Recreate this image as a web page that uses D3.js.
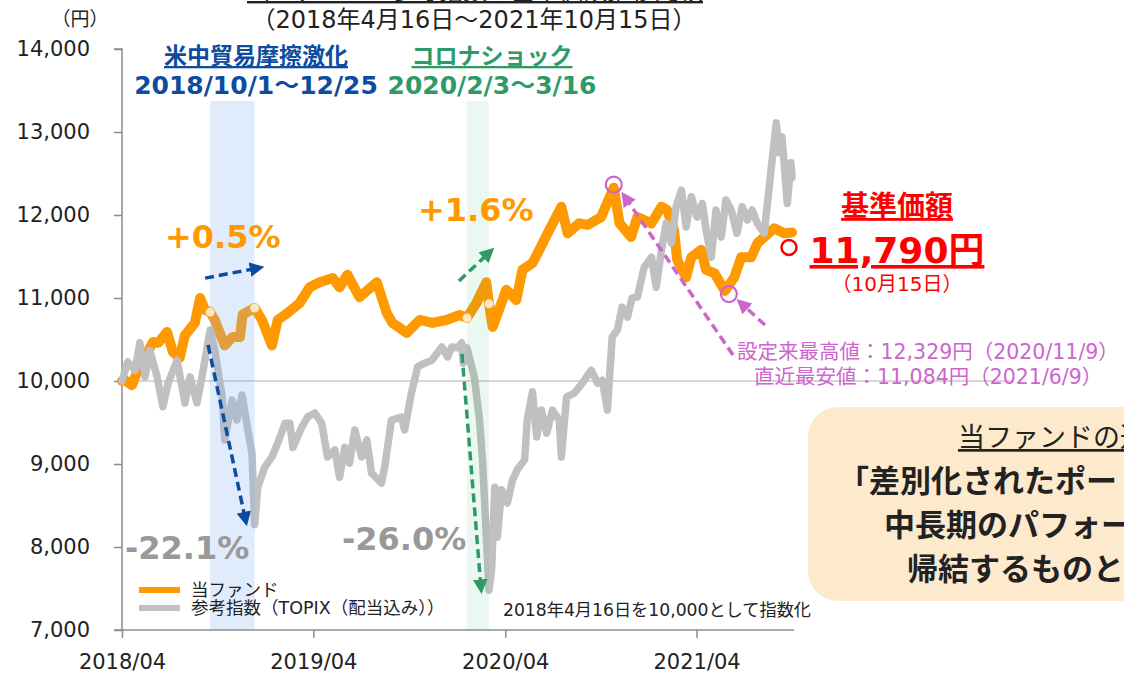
<!DOCTYPE html>
<html>
<head>
<meta charset="utf-8">
<script src="https://cdn.jsdelivr.net/npm/d3@7"></script>
<style>
  body { margin: 0; background: #fff; overflow: hidden; }
  svg { display: block; font-family: "DejaVu Sans", "Noto Sans CJK JP", sans-serif; }
</style>
</head>
<body>
<div id="chart"></div>
<script>
// fund NAV (indexed, 2018/4/16 = 10,000)
const fundDates = [
  "2018-04-16","2018-04-22","2018-05-05","2018-05-16","2018-05-30","2018-06-14","2018-06-24",
  "2018-07-11","2018-07-22","2018-08-04","2018-08-14","2018-09-02","2018-09-12","2018-09-21",
  "2018-10-01","2018-10-10","2018-10-29","2018-11-13","2018-11-27","2018-12-02","2018-12-25",
  "2019-01-08","2019-01-27","2019-02-07","2019-02-26","2019-03-21","2019-04-09","2019-04-28",
  "2019-05-23","2019-06-05","2019-06-20","2019-07-13","2019-08-15","2019-09-03","2019-09-14",
  "2019-10-11","2019-11-05","2019-11-29","2019-12-26","2020-01-20","2020-02-03","2020-02-21",
  "2020-03-11","2020-03-16","2020-03-23","2020-04-18","2020-05-07","2020-05-19","2020-06-07",
  "2020-06-20","2020-07-09","2020-08-01","2020-08-13","2020-09-04","2020-09-20","2020-10-16",
  "2020-11-09","2020-11-20","2020-12-12","2020-12-24","2021-01-20","2021-02-08","2021-02-19",
  "2021-03-04","2021-03-10","2021-03-27","2021-04-06","2021-04-25","2021-05-04","2021-05-20",
  "2021-06-09","2021-06-27","2021-07-10","2021-07-29","2021-08-10","2021-08-23","2021-09-11",
  "2021-09-30","2021-10-15"
];
const fundValues = [
  10000,10010,9950,10130,10290,10470,10460,
  10590,10350,10280,10550,10700,11000,10860,
  10830,10735,10430,10530,10530,10800,10880,
  10735,10430,10735,10820,10940,11130,11190,
  11240,11130,11280,11010,11190,10820,10700,
  10580,10735,10700,10735,10795,10760,10940,
  11190,10930,10650,11100,10975,11340,11420,
  11580,11820,12100,11780,11900,11880,11975,
  12329,11900,11735,11975,11900,12100,12060,
  11820,11460,11250,11490,11580,11340,11300,
  11084,11250,11490,11490,11660,11735,11840,
  11780,11790
];

// TOPIX (dividends included), indexed
const topixDates = [
  "2018-04-16","2018-04-27","2018-05-11","2018-05-20","2018-05-30","2018-06-08","2018-06-22",
  "2018-07-03","2018-07-13","2018-07-30","2018-08-14","2018-08-24","2018-09-06","2018-09-17",
  "2018-10-01","2018-10-10","2018-10-24","2018-10-29","2018-11-12","2018-11-21","2018-12-01",
  "2018-12-12","2018-12-20","2018-12-25","2018-12-31","2019-01-13","2019-01-27","2019-02-07",
  "2019-02-21","2019-03-02","2019-03-08","2019-03-25","2019-04-05","2019-04-19","2019-05-02",
  "2019-05-13","2019-05-27","2019-06-05","2019-06-15","2019-06-24","2019-07-04","2019-07-17",
  "2019-07-27","2019-08-05","2019-08-24","2019-08-30","2019-09-12","2019-10-01","2019-10-07",
  "2019-10-20","2019-11-01","2019-11-14","2019-11-28","2019-12-17","2019-12-28","2020-01-05",
  "2020-01-16","2020-01-24","2020-01-27","2020-02-03","2020-02-17","2020-02-27","2020-03-04",
  "2020-03-11","2020-03-16","2020-03-21","2020-03-27","2020-04-01","2020-04-09","2020-04-20",
  "2020-04-30","2020-05-09","2020-05-23","2020-05-28","2020-06-07","2020-06-15","2020-06-24",
  "2020-07-04","2020-07-15","2020-07-28","2020-08-01","2020-08-11","2020-08-26","2020-09-10",
  "2020-09-27","2020-10-09","2020-10-18","2020-10-28","2020-11-06","2020-11-16","2020-11-25",
  "2020-12-05","2020-12-14","2020-12-24","2021-01-06","2021-01-20","2021-01-29","2021-02-08",
  "2021-02-17","2021-02-27","2021-03-08","2021-03-18","2021-03-27","2021-04-06","2021-04-17",
  "2021-04-27","2021-05-04","2021-05-14","2021-05-23","2021-06-02","2021-06-11","2021-06-21",
  "2021-07-02","2021-07-12","2021-07-22","2021-07-31","2021-08-10","2021-08-23","2021-09-05",
  "2021-09-15","2021-09-20","2021-09-26","2021-10-06","2021-10-13","2021-10-15"
];
const topixValues = [
  10000,10230,10130,10460,10050,10370,10050,
  9690,9975,10250,9735,10050,9735,10100,
  10615,10370,9810,9290,9770,9530,9830,
  9410,9130,8270,8720,8960,9085,9250,
  9490,9490,9200,9445,9565,9615,9490,
  9085,9170,8840,9200,9010,9410,9085,
  9290,8890,8770,8960,9530,9565,9410,
  9855,10170,10215,10250,10410,10290,10410,
  10400,10460,10215,10400,10050,9530,9010,
  8120,7480,7720,8720,8120,8690,8530,
  8810,8930,9050,9530,9870,9325,9650,
  9370,9650,9530,9085,9810,9855,9975,
  10130,9975,10010,9650,10530,10615,10890,
  10770,11000,11010,11370,11490,11130,11580,
  11900,11660,12100,12300,11855,12220,11975,
  12140,11820,11490,12060,11735,12180,12060,
  11780,12100,11940,12060,11900,11780,12540,
  13110,12750,12940,12140,12630,12450
];

const yTicks = [7000, 8000, 9000, 10000, 11000, 12000, 13000, 14000];
const xTickDates = ["2018-04-16", "2019-04-16", "2020-04-16", "2021-04-16"];

// shaded periods
const periodTradeWar = ["2018-10-01", "2018-12-25"];
const periodCorona = ["2020-02-03", "2020-03-16"];
const fundHigh = { date: "2020-11-09", value: 12329 };
const fundLow = { date: "2021-06-09", value: 11084 };

const W = 1124, H = 675;
const parse = d3.timeParse("%Y-%m-%d");
const fund = fundDates.map((d, i) => ({ date: parse(d), value: fundValues[i] }));
const topix = topixDates.map((d, i) => ({ date: parse(d), value: topixValues[i] }));

const BLUE = "#0d4c9f", GREEN = "#2e9a68", ORANGE = "#ff9900", GRAY = "#c0c0c0";
const MAGENTA = "#cc66cc", RED = "#ff0000", CJK = "'Noto Sans CJK JP', sans-serif";

const svg = d3.select("#chart").append("svg").attr("width", W).attr("height", H);

const x = d3.scaleTime()
  .domain([parse("2018-04-16"), parse("2021-10-15")])
  .range([122, 792]);
const y = d3.scaleLinear().domain([7000, 14000]).range([630, 49]);

// arrow markers
const defs = svg.append("defs");
[["blue", BLUE], ["green", GREEN], ["mag", MAGENTA]].forEach(([id, c]) => {
  defs.append("marker")
    .attr("id", "arr-" + id)
    .attr("viewBox", "0 0 10 10")
    .attr("refX", 6).attr("refY", 5)
    .attr("markerWidth", 4.2).attr("markerHeight", 4.2)
    .attr("markerUnits", "strokeWidth")
    .attr("orient", "auto")
    .append("path").attr("d", "M0,0 L10,5 L0,10 z").attr("fill", c);
});

// 10,000 reference line
svg.append("line")
  .attr("x1", x.range()[0]).attr("x2", 1012)
  .attr("y1", y(10000)).attr("y2", y(10000))
  .attr("stroke", "#c8c8c8").attr("stroke-width", 1.5);

// Y axis
const yAxis = svg.append("g")
  .attr("transform", `translate(${x.range()[0]},0)`)
  .call(d3.axisLeft(y).tickValues(yTicks).tickSize(8).tickPadding(24)
    .tickFormat(d3.format(",")));
yAxis.select(".domain").attr("stroke", "#8c8c8c").attr("stroke-width", 1.5)
  .attr("d", `M-8,${y(14000)}H0V${y(7000)}`);
yAxis.selectAll(".tick line").attr("stroke", "#8c8c8c").attr("stroke-width", 1.5);
yAxis.selectAll(".tick text")
  .attr("font-size", 21).attr("fill", "#222")
  .attr("font-family", "DejaVu Sans");

// X axis
const xAxis = svg.append("g")
  .attr("transform", `translate(0,${y(7000)})`)
  .call(d3.axisBottom(x).tickValues(xTickDates.map(parse)).tickSize(8).tickPadding(16)
    .tickFormat(d3.timeFormat("%Y/%m")));
xAxis.select(".domain").attr("stroke", "#8c8c8c").attr("stroke-width", 1.5)
  .attr("d", `M${x.range()[0] - 8},0H${x.range()[1] + 2}`);
xAxis.selectAll(".tick line").attr("stroke", "#8c8c8c").attr("stroke-width", 1.5);
xAxis.selectAll(".tick text")
  .attr("font-size", 21).attr("fill", "#222")
  .attr("font-family", "DejaVu Sans");

// series lines
const line = d3.line().x(d => x(d.date)).y(d => y(d.value));
svg.append("path").datum(fund)
  .attr("d", line).attr("fill", "none")
  .attr("stroke", ORANGE).attr("stroke-width", 10)
  .attr("stroke-linejoin", "round").attr("stroke-linecap", "round");
svg.append("path").datum(topix)
  .attr("d", line).attr("fill", "none")
  .attr("stroke", GRAY).attr("stroke-width", 7.5)
  .attr("stroke-linejoin", "round").attr("stroke-linecap", "round");

// shaded periods (drawn over the lines, translucent)
svg.append("rect")
  .attr("x", x(parse(periodTradeWar[0])))
  .attr("width", x(parse(periodTradeWar[1])) - x(parse(periodTradeWar[0])))
  .attr("y", 101).attr("height", y(7000) - 101)
  .attr("fill", "#85b4f0").attr("opacity", 0.25);
svg.append("rect")
  .attr("x", x(parse(periodCorona[0])))
  .attr("width", x(parse(periodCorona[1])) - x(parse(periodCorona[0])))
  .attr("y", 101).attr("height", y(7000) - 101)
  .attr("fill", "#3cb371").attr("opacity", 0.1);

// period edge dots on fund line
const edgeDates = [periodTradeWar[0], periodTradeWar[1], periodCorona[0], periodCorona[1]];
svg.selectAll(".edge")
  .data(edgeDates.map(d => fund.find(p => +p.date === +parse(d))))
  .join("circle")
  .attr("cx", d => x(d.date)).attr("cy", d => y(d.value))
  .attr("r", 4.5).attr("fill", "#fde6c4");

// arrows
function arrow(x1, y1, x2, y2, color, id) {
  svg.append("line")
    .attr("x1", x1).attr("y1", y1).attr("x2", x2).attr("y2", y2)
    .attr("stroke", color).attr("stroke-width", 3.5)
    .attr("stroke-dasharray", "9,5")
    .attr("marker-end", `url(#arr-${id})`);
}
const tw0 = parse(periodTradeWar[0]), tw1 = parse(periodTradeWar[1]);
const cv0 = parse(periodCorona[0]), cv1 = parse(periodCorona[1]);
arrow(x(tw0) - 5, y(10830) - 34, x(tw1) + 4, y(10880) - 40, BLUE, "blue");
arrow(x(tw0) - 2, y(10615) + 15, x(tw1) - 9, y(8270) - 4, BLUE, "blue");
arrow(x(cv0) - 8, y(10760) - 37, x(cv1) + 1, y(10930) - 52, GREEN, "green");
arrow(x(cv0) - 5, y(10400) + 6, x(cv1) - 8, y(7480) - 2, GREEN, "green");

// high / low markers
const hi = { date: parse(fundHigh.date), value: fundHigh.value };
const lo = { date: parse(fundLow.date), value: fundLow.value };
svg.append("circle").attr("cx", x(hi.date)).attr("cy", y(hi.value) - 3).attr("r", 8)
  .attr("fill", "none").attr("stroke", MAGENTA).attr("stroke-width", 2.2);
svg.append("circle").attr("cx", x(lo.date) + 4).attr("cy", y(lo.value) + 3).attr("r", 8)
  .attr("fill", "none").attr("stroke", MAGENTA).attr("stroke-width", 2.2);
arrow(733, 355, x(hi.date) + 11, y(hi.value) + 9, MAGENTA, "mag");
arrow(765, 325, x(lo.date) + 16, y(lo.value) + 12, MAGENTA, "mag");

// latest NAV marker
const last = fund[fund.length - 1];
svg.append("circle").attr("cx", x(last.date) - 3).attr("cy", y(last.value) + 15).attr("r", 7.5)
  .attr("fill", "none").attr("stroke", RED).attr("stroke-width", 2.5);

// text helper
function txt(str, tx, ty, opt = {}) {
  const t = svg.append("text")
    .attr("x", tx).attr("y", ty)
    .attr("font-size", opt.size || 20)
    .attr("font-weight", opt.bold ? "bold" : "normal")
    .attr("fill", opt.color || "#222")
    .attr("text-anchor", opt.anchor || "start")
    .attr("font-family", opt.family || null)
    .text(str);
  if (opt.underline) t.attr("text-decoration", "underline");
  return t;
}

// titles (the main title sits mostly above the top edge, as in the source)
txt("当ファンドと参考指数の基準価額推移比較", 475, -1, { size: 24, anchor: "middle", underline: true, family: CJK });
txt("（2018年4月16日～2021年10月15日）", 474, 28, { size: 24, anchor: "middle" });
txt("（円）", 80, 26, { size: 19, anchor: "middle", family: CJK });

txt("米中貿易摩擦激化", 256, 64, { size: 23, bold: true, color: BLUE, anchor: "middle", underline: true, family: CJK });
txt("2018/10/1～12/25", 256, 94, { size: 25, bold: true, color: BLUE, anchor: "middle" });
txt("コロナショック", 492, 64, { size: 23, bold: true, color: GREEN, anchor: "middle", underline: true, family: CJK });
txt("2020/2/3～3/16", 492, 94, { size: 25, bold: true, color: GREEN, anchor: "middle" });

txt("+0.5%", 165, 248, { size: 32, bold: true, color: ORANGE });
txt("+1.6%", 418, 221, { size: 32, bold: true, color: ORANGE });
txt("-22.1%", 125, 559, { size: 32, bold: true, color: "#999" });
txt("-26.0%", 342, 550, { size: 32, bold: true, color: "#999" });

// latest NAV annotation
txt("基準価額", 897, 216, { size: 28, bold: true, color: RED, anchor: "middle", underline: true, family: CJK });
txt("11,790円", 897, 263, { size: 36, bold: true, color: RED, anchor: "middle", underline: true });
txt("（10月15日）", 897, 291, { size: 20, color: RED, anchor: "middle" });

txt("設定来最高値：12,329円（2020/11/9）", 737, 359, { size: 20.5, color: MAGENTA });
txt("直近最安値：11,084円（2021/6/9）", 754, 384, { size: 20.5, color: MAGENTA });

// legend
const legendItems = [
  { label: "当ファンド", color: ORANGE, width: 6 },
  { label: "参考指数（TOPIX（配当込み））", color: GRAY, width: 6 }
];
legendItems.forEach((d, i) => {
  const ly = 590 + i * 18;
  svg.append("line").attr("x1", 139).attr("x2", 180).attr("y1", ly).attr("y2", ly)
    .attr("stroke", d.color).attr("stroke-width", d.width);
  txt(d.label, 191, ly + 6, { size: 17.5 });
});
txt("2018年4月16日を10,000として指数化", 503, 616, { size: 17.2 });

// callout box
svg.append("rect")
  .attr("x", 808).attr("y", 407).attr("width", 360).attr("height", 194)
  .attr("rx", 30).attr("fill", "#fde9cc");
txt("当ファンドの運用実績は", 958, 447, { size: 27, underline: true, family: CJK });
txt("「差別化されたポートフォリオ」が", 838, 492, { size: 31, bold: true, family: CJK });
txt("中長期のパフォーマンスに", 884, 536, { size: 31, bold: true, family: CJK });
txt("帰結するものと考えています", 907, 580, { size: 31, bold: true, family: CJK });
</script>
</body>
</html>
